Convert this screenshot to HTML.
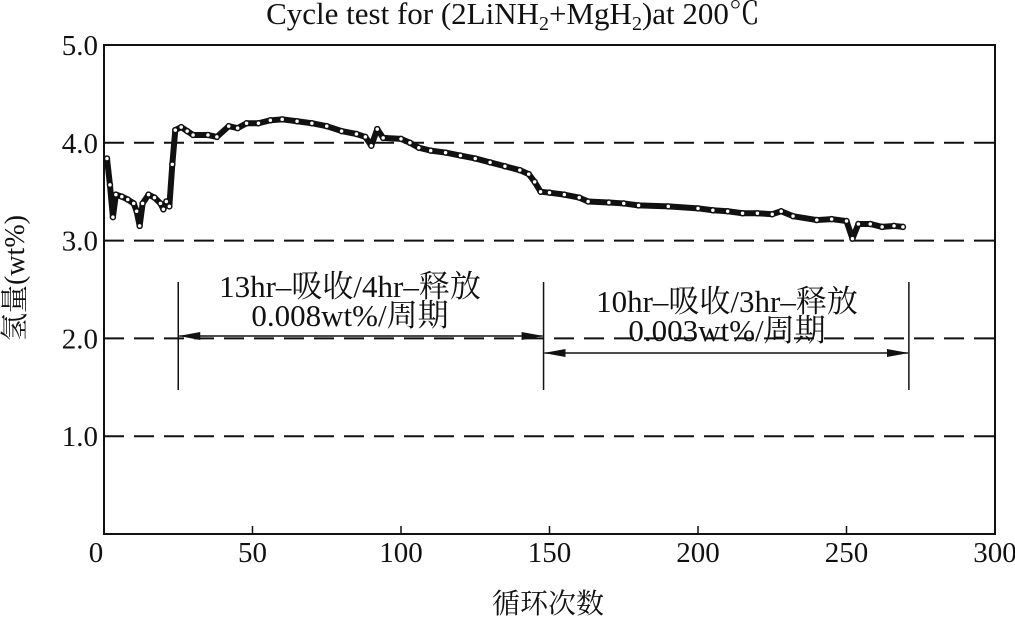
<!DOCTYPE html>
<html><head><meta charset="utf-8"><style>
body{margin:0;background:#fff}
svg text{font-family:"Liberation Serif","Noto Serif CJK SC",serif;fill:#111}
</style></head><body>
<svg width="1015" height="623" viewBox="0 0 1015 623">
<g id="chart"></g>
</svg>
<script>
const cycles=[1,2,3,4,6,8,10,11,12,13,15,17,19,20,21,22,23,24,26,28,30,35,38,42,45,48,52,56,60,65,70,75,80,85,88,90,92,94,100,103,106,110,115,120,125,130,135,140,143,145,147,150,155,160,163,170,175,180,190,200,205,210,215,220,225,228,232,240,245,250,252,254,258,262,266,269];
const values=[3.84,3.57,3.24,3.47,3.45,3.42,3.38,3.3,3.15,3.38,3.47,3.44,3.38,3.32,3.4,3.35,3.78,4.13,4.16,4.12,4.08,4.08,4.06,4.17,4.15,4.2,4.2,4.23,4.24,4.22,4.2,4.17,4.12,4.09,4.06,3.97,4.14,4.05,4.04,4.0,3.95,3.92,3.9,3.87,3.84,3.8,3.76,3.72,3.68,3.6,3.5,3.49,3.47,3.44,3.4,3.39,3.38,3.36,3.35,3.33,3.31,3.3,3.28,3.28,3.27,3.3,3.25,3.21,3.22,3.2,3.02,3.17,3.17,3.14,3.15,3.14];
const xTicks=[0,50,100,150,200,250,300];
const yTicks=[1.0,2.0,3.0,4.0,5.0];
const X0=104,X1=995,Y0=534,Y1=45;
const xs=v=>X0+(v/300)*(X1-X0);
const ys=v=>Y0-(v/5)*(Y0-Y1);
const NS="http://www.w3.org/2000/svg";
const g=document.getElementById('chart');
function mk(t,a,txt){const e=document.createElementNS(NS,t);for(const k in a)e.setAttribute(k,a[k]);if(txt!==undefined)e.textContent=txt;g.appendChild(e);return e;}
yTicks.forEach(v=>{if(v<5){const l=mk('line',{x1:X0,x2:X1,y1:ys(v),y2:ys(v),stroke:'#111','stroke-width':2,'stroke-dasharray':'20 10'});

}
const t=mk('text',{x:X0-6,y:ys(v)+10,'text-anchor':'end','font-size':29},v.toFixed(1));

});
const zt=mk('text',{x:X0-8,y:562,'text-anchor':'middle','font-size':29},'0');


xTicks.forEach(v=>{if(v>0){const t=mk('text',{x:xs(v),y:562,'text-anchor':'middle','font-size':29},String(v));

}
const tk=mk('line',{x1:xs(v),x2:xs(v),y1:Y0,y2:Y0-8,stroke:'#111','stroke-width':1.5});

});
const fr=mk('rect',{x:X0,y:Y1,width:X1-X0,height:Y0-Y1,fill:'none',stroke:'#111','stroke-width':2});


const pl=mk('polyline',{points:cycles.map((c,i)=>xs(c)+','+ys(values[i])).join(' '),fill:'none',stroke:'#111','stroke-width':6,'stroke-linejoin':'round'});


cycles.forEach((c,i)=>{const p=mk('circle',{cx:xs(c),cy:ys(values[i]),r:2.5,fill:'#fff',stroke:'#111','stroke-width':1.5});

});
[25,148,271].forEach(c=>{const l=mk('line',{x1:xs(c),x2:xs(c),y1:282,y2:390,stroke:'#111','stroke-width':1.5});

});
mk('defs',{}).innerHTML='<marker id="ah" markerUnits="userSpaceOnUse" markerWidth="22" markerHeight="8" refX="21" refY="4" orient="auto-start-reverse"><path d="M0,0 L22,4 L0,8 z" fill="#111"/></marker>';
const a1=mk('line',{x1:xs(25)+1,x2:xs(148)-1,y1:336,y2:336,stroke:'#111','stroke-width':1.5,'marker-start':'url(#ah)','marker-end':'url(#ah)'});


const a2=mk('line',{x1:xs(148)+1,x2:xs(271)-1,y1:353,y2:353,stroke:'#111','stroke-width':1.5,'marker-start':'url(#ah)','marker-end':'url(#ah)'});


[['13hr–吸收/4hr–释放',350,297],['0.008wt%/周期',350,326],['10hr–吸收/3hr–释放',727,312],['0.003wt%/周期',727,341]].forEach(([s,x,y])=>{const t=mk('text',{x:x,y:y,'text-anchor':'middle','font-size':31},s);

});
const ti=mk('text',{x:513,y:24,'text-anchor':'middle','font-size':31},'');
ti.innerHTML='Cycle test for (2LiNH<tspan font-size="20" dy="6">2</tspan><tspan dy="-6">+MgH</tspan><tspan font-size="20" dy="6">2</tspan><tspan dy="-6">)at 200℃</tspan>';


const xl=mk('text',{x:548,y:613,'text-anchor':'middle','font-size':28},'循环次数');


const yl=mk('text',{x:0,y:0,'text-anchor':'middle','font-size':28,transform:'translate(24,278) rotate(-90)'},'氢量(wt%)');


</script>
</body></html>
